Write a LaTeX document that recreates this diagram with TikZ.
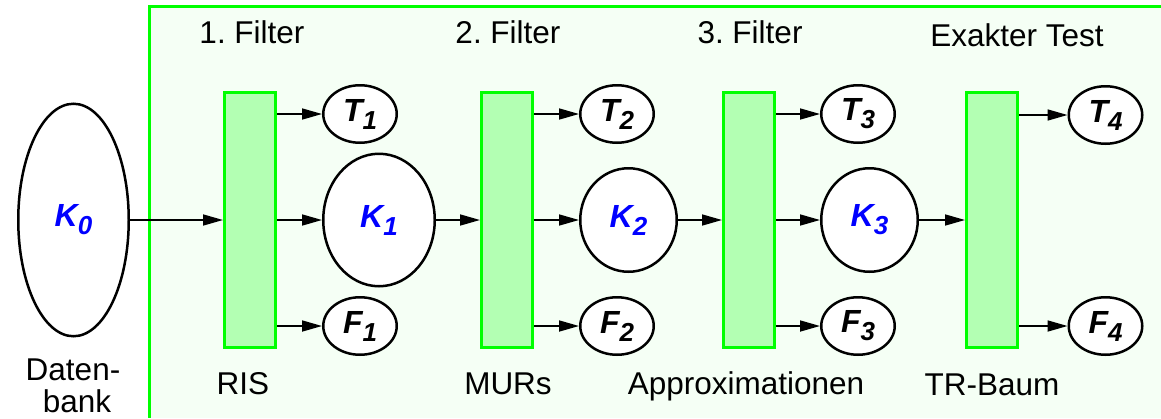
\documentclass[tikz,border=0pt]{standalone}
\usepackage{fontspec}
\setmainfont{Liberation Sans}
\usetikzlibrary{shapes.geometric,arrows.meta}
\definecolor{panelbg}{HTML}{F5FFF5}
\definecolor{filterfill}{HTML}{B3FFB3}
\definecolor{filterline}{HTML}{00FF00}
\definecolor{kblue}{HTML}{0000FF}
\frenchspacing
\newcommand{\setlbl}[2]{\fontsize{32}{34}\selectfont\bfseries\itshape #1\raisebox{-8pt}{\fontsize{26}{26}\selectfont #2}}
\begin{document}
\begin{tikzpicture}[x=1pt,y=-1pt,
  every node/.style={font=\fontsize{31.5}{33}\selectfont},
  setnode/.style={ellipse,draw=black,line width=2.5pt,fill=white,inner sep=0pt},
  small/.style={setnode,minimum width=73.5pt,minimum height=57.5pt},
  filterbox/.style={rectangle,draw=filterline,line width=3pt,fill=filterfill,
    minimum width=51pt,minimum height=255pt,inner sep=0pt},
  arr/.style={line width=1.7pt,-{Triangle[length=20pt,width=11pt]}},
  lbl/.style={anchor=base,inner sep=0pt}]
\useasboundingbox (0,0) rectangle (1161,418);

% green panel holding the filter stages
\fill[panelbg] (149,6) rectangle (1161,418);
\draw[filterline,line width=3pt] (1161,6) -- (149,6) -- (149,418);

% database
\node[setnode,minimum width=110.5pt,minimum height=232.5pt] (k0) at (73.5,220)
  {\textcolor{kblue}{\setlbl{K}{0}}};
\node[lbl] (db1) at (73,380) {Daten-};
\node[lbl] (db2) at (77,412) {bank};

% filter boxes
\node[filterbox] (r1) at (250,220) {};
\node[filterbox] (r2) at (507,220) {};
\node[filterbox] (r3) at (749,220) {};
\node[filterbox] (r4) at (992,220) {};

% result sets
\node[small] (t1) at (360,114) {\setlbl{T}{1}};
\node[setnode,minimum width=111.5pt,minimum height=132.5pt] (k1) at (379,220)
  {\textcolor{kblue}{\setlbl{K}{1}}};
\node[small] (f1) at (360,326) {\setlbl{F}{1}};

\node[small] (t2) at (617,114) {\setlbl{T}{2}};
\node[setnode,minimum width=96.5pt,minimum height=103.5pt] (k2) at (628.5,220)
  {\textcolor{kblue}{\setlbl{K}{2}}};
\node[small] (f2) at (617,326) {\setlbl{F}{2}};

\node[small] (t3) at (858,114) {\setlbl{T}{3}};
\node[setnode,minimum width=96.5pt,minimum height=103.5pt] (k3) at (869.5,220)
  {\textcolor{kblue}{\setlbl{K}{3}}};
\node[small] (f3) at (858,326) {\setlbl{F}{3}};

\node[small] (t4) at (1105.5,115) {\setlbl{T}{4}};
\node[small] (f4) at (1105.5,326) {\setlbl{F}{4}};

% stage titles
\node[lbl] (h1) at (252,43) {1. Filter};
\node[lbl] (h2) at (508,43) {2. Filter};
\node[lbl] (h3) at (750,43) {3. Filter};
\node[lbl] (h4) at (1017,46) {Exakter Test};

% methods
\node[lbl] (m1) at (243,394) {RIS};
\node[lbl] (m2) at (508,394) {MURs};
\node[lbl] (m3) at (746,394) {Approximationen};
\node[lbl] (m4) at (992,395) {TR-Baum};

% flow
\draw[arr] (k0.east) -- (r1.west |- k0);
\draw[arr] (r1.east |- t1) -- (t1.west);
\draw[arr] (r1.east |- k1) -- (k1.west);
\draw[arr] (r1.east |- f1) -- (f1.west);
\draw[arr] (k1.east) -- (r2.west |- k1);
\draw[arr] (r2.east |- t2) -- (t2.west);
\draw[arr] (r2.east |- k2) -- (k2.west);
\draw[arr] (r2.east |- f2) -- (f2.west);
\draw[arr] (k2.east) -- (r3.west |- k2);
\draw[arr] (r3.east |- t3) -- (t3.west);
\draw[arr] (r3.east |- k3) -- (k3.west);
\draw[arr] (r3.east |- f3) -- (f3.west);
\draw[arr] (k3.east) -- (r4.west |- k3);
\draw[arr] (r4.east |- t4) -- (t4.west);
\draw[arr] (r4.east |- f4) -- (f4.west);
\end{tikzpicture}
\end{document}
